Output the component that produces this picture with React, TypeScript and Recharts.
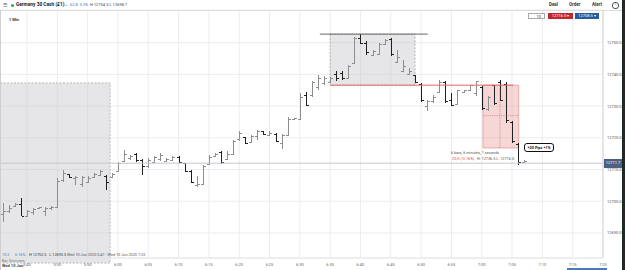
// Germany 30 Cash — 1 minute OHLC bar chart with drawn measurement boxes.
import React from "react";
import {
  ComposedChart,
  Bar,
  XAxis,
  YAxis,
  CartesianGrid,
  ReferenceArea,
  ReferenceLine,
} from "recharts";

// first bar is 5:41, one bar per minute (minutes after midnight)
const FIRST_BAR = 341;

const highs = [
  12699.4, 12698.9, 12699.4, 12701.0, 12697.3, 12697.8, 12698.3, 12698.1, 12698.5, 12707.3,
  12709.9, 12708.6, 12708.0, 12708.0, 12707.8, 12708.8, 12709.9, 12708.3, 12708.8, 12712.5,
  12716.2, 12714.6, 12715.1, 12713.2, 12713.5, 12714.3, 12715.1, 12713.5, 12714.3, 12714.3,
  12712.2, 12709.9, 12707.8, 12711.5, 12714.6, 12715.3, 12715.9, 12715.7, 12719.3, 12722.2,
  12720.4, 12720.9, 12722.5, 12722.3, 12722.0, 12721.4, 12721.2, 12726.7, 12726.4, 12734.1,
  12734.6, 12738.0, 12739.8, 12739.4, 12739.1, 12741.0, 12741.2, 12742.8, 12751.7, 12752.7,
  12750.4, 12747.8, 12749.9, 12751.0, 12751.5, 12747.8, 12744.6, 12742.0, 12739.9, 12737.3,
  12732.0, 12733.6, 12738.3, 12737.8, 12734.1, 12735.2, 12735.2, 12736.8, 12738.0, 12736.2,
  12733.1, 12736.8, 12738.3, 12737.6, 12725.2, 12718.4, 12713.1,
];
const lows = [
  12693.6, 12696.2, 12698.3, 12695.2, 12695.2, 12695.7, 12697.8, 12695.2, 12697.3, 12698.3,
  12706.2, 12707.3, 12705.2, 12704.6, 12705.7, 12707.3, 12707.8, 12703.4, 12707.3, 12709.4,
  12712.5, 12713.0, 12712.5, 12708.3, 12710.4, 12712.0, 12712.8, 12712.5, 12712.8, 12712.0,
  12709.1, 12705.7, 12704.6, 12705.2, 12711.5, 12714.1, 12711.8, 12713.0, 12714.6, 12719.1,
  12718.1, 12718.3, 12719.3, 12720.9, 12720.7, 12718.8, 12716.4, 12720.9, 12725.6, 12725.6,
  12729.9, 12733.0, 12735.1, 12736.8, 12737.3, 12738.0, 12738.3, 12738.9, 12743.6, 12749.6,
  12746.2, 12745.7, 12746.2, 12749.4, 12745.7, 12743.6, 12741.0, 12740.1, 12737.3, 12731.3,
  12728.4, 12731.0, 12734.1, 12731.0, 12729.9, 12730.5, 12734.5, 12734.9, 12733.1, 12728.9,
  12728.4, 12730.5, 12731.5, 12724.7, 12718.4, 12711.5, 12712.1,
];
const opens = [
  12696.0, 12697.0, 12698.5, 12699.0, 12695.5, 12696.5, 12697.8, 12697.0, 12697.8, 12698.3,
  12706.8, 12708.5, 12707.3, 12705.5, 12706.0, 12707.5, 12708.2, 12708.0, 12707.5, 12709.5,
  12712.8, 12713.5, 12715.0, 12713.0, 12711.0, 12712.5, 12713.2, 12712.8, 12713.0, 12714.0,
  12712.0, 12709.5, 12705.0, 12705.5, 12711.8, 12714.3, 12715.5, 12713.2, 12715.0, 12719.5,
  12720.2, 12718.6, 12720.5, 12722.2, 12721.0, 12721.2, 12718.5, 12721.0, 12725.8, 12726.0,
  12733.5, 12733.5, 12736.0, 12737.2, 12737.5, 12740.0, 12740.5, 12739.0, 12743.6, 12751.5,
  12750.0, 12746.0, 12746.5, 12749.6, 12751.0, 12744.0, 12741.2, 12740.2, 12739.8, 12737.0,
  12730.0, 12731.5, 12734.5, 12737.5, 12732.0, 12730.8, 12734.6, 12735.0, 12734.0, 12736.0,
  12729.0, 12736.5, 12737.5, 12737.0, 12725.0, 12718.0, 12712.3,
];
const closes = [
  12697.0, 12698.0, 12699.0, 12695.5, 12697.0, 12697.5, 12698.2, 12697.9, 12698.3, 12706.5,
  12709.0, 12707.5, 12707.6, 12707.5, 12707.4, 12708.5, 12709.5, 12706.0, 12708.5, 12712.0,
  12714.8, 12714.2, 12713.0, 12711.0, 12713.0, 12714.0, 12714.5, 12713.2, 12714.0, 12712.3,
  12709.5, 12706.0, 12705.5, 12711.0, 12714.0, 12715.0, 12712.5, 12715.0, 12719.0, 12721.5,
  12718.5, 12720.5, 12722.0, 12721.2, 12721.6, 12719.0, 12720.8, 12726.0, 12726.2, 12733.0,
  12730.5, 12737.5, 12739.0, 12738.8, 12738.8, 12738.8, 12739.0, 12742.5, 12751.5, 12750.0,
  12747.0, 12747.5, 12749.5, 12750.8, 12746.5, 12745.5, 12742.5, 12741.0, 12737.5, 12732.0,
  12731.5, 12733.0, 12737.5, 12731.5, 12730.5, 12735.0, 12735.0, 12736.5, 12737.8, 12729.5,
  12732.8, 12731.0, 12732.0, 12725.5, 12719.0, 12712.5, 12712.8,
];

const timeTicks = [345, 350, 355, 360, 365, 370, 375, 380, 385, 390, 395, 400, 405, 410, 415, 420, 425, 430, 435, 440];
const priceTicks = [12690, 12700, 12710, 12720, 12730, 12740, 12750];
const lastPrice = 12712.0;

const data = highs.map((h, i) => ({
  t: FIRST_BAR + i,
  range: [lows[i], h],
  high: h,
  low: lows[i],
  open: opens[i],
  close: closes[i],
}));

const fmtTime = (m: number) => `${Math.floor(m / 60)}:${String(m % 60).padStart(2, "0")}`;

// one OHLC bar: vertical high-low line, open tick left, close tick right
const OhlcShape = (props: any) => {
  const { x, y, width, height, payload } = props;
  if (x == null || y == null || !payload) return null;
  const top = Math.min(y, y + height);
  const bottom = Math.max(y, y + height);
  const k = (bottom - top) / (payload.high - payload.low || 1);
  const cx = Math.round(x + width / 2) + 0.5;
  const yo = Math.round(top + (payload.high - payload.open) * k) + 0.5;
  const yc = Math.round(top + (payload.high - payload.close) * k) + 0.5;
  const color = payload.close < payload.open ? "#202020" : "#8e8e8e";
  return (
    <g stroke={color} strokeWidth={1} shapeRendering="crispEdges">
      <line x1={cx} x2={cx} y1={top} y2={bottom} />
      <line x1={cx - 2.5} x2={cx} y1={yo} y2={yo} />
      <line x1={cx} x2={cx + 2.5} y1={yc} y2={yc} />
    </g>
  );
};

const abs = (style: React.CSSProperties): React.CSSProperties => ({
  position: "absolute",
  whiteSpace: "nowrap",
  lineHeight: 1,
  ...style,
});

export default function App() {
  return (
    <div
      style={{
        position: "absolute",
        left: 0,
        top: 0,
        width: 625,
        height: 270,
        background: "#fff",
        fontFamily: "Roboto, 'Noto Sans', sans-serif",
        overflow: "hidden",
      }}
    >
      <ComposedChart
        width={625}
        height={270}
        data={data}
        margin={{ top: 10, right: 0, bottom: 0, left: 0 }}
      >
        <CartesianGrid stroke="#ededed" />
        <XAxis
          type="number"
          dataKey="t"
          domain={[340.55, 440]}
          ticks={timeTicks}
          interval={0}
          allowDataOverflow
          tickFormatter={fmtTime}
          tick={{ fontSize: 4, fill: "#666" }}
          tickLine={false}
          tickSize={3}
          axisLine={{ stroke: "#e6e6e6" }}
          height={12}
        />
        <YAxis
          orientation="right"
          domain={[12682.1, 12760.3]}
          ticks={priceTicks}
          interval={0}
          allowDataOverflow
          tickFormatter={(v: number) => v.toFixed(1)}
          tick={{ fontSize: 4, fill: "#555" }}
          tickLine={false}
          tickSize={2}
          tickMargin={2}
          axisLine={{ stroke: "#d4d4d4" }}
          width={22}
        />

        {/* left measure box */}
        <ReferenceArea
          x1={340.55}
          x2={358.7}
          y1={12680.5}
          y2={12737.3}
          ifOverflow="visible"
          fill="#c4c4ca"
          fillOpacity={0.42}
          stroke="#a8a8a8"
          strokeDasharray="2 1.5"
          strokeWidth={0.8}
        />
        {/* top range box */}
        <ReferenceArea
          x1={395}
          x2={409}
          y1={12736.6}
          y2={12752.7}
          fill="#c4c4ca"
          fillOpacity={0.42}
          stroke="#a8a8a8"
          strokeDasharray="2 1.5"
          strokeWidth={0.8}
        />
        {/* red drop box */}
        <ReferenceArea
          x1={420.2}
          x2={426.1}
          y1={12716.8}
          y2={12736.6}
          fill="#e88a8a"
          fillOpacity={0.35}
          stroke="#e29a9a"
          strokeWidth={0.8}
        />
        <ReferenceLine
          segment={[{ x: 420.2, y: 12727.0 }, { x: 426.1, y: 12727.0 }]}
          stroke="#b07070"
          strokeDasharray="0.8 1"
          strokeWidth={0.7}
        />
        <ReferenceLine
          segment={[{ x: 423.0, y: 12716.8 }, { x: 423.0, y: 12736.6 }]}
          stroke="#b07070"
          strokeDasharray="0.8 1"
          strokeWidth={0.7}
        />
        <ReferenceLine y={lastPrice} stroke="#c3c8d0" strokeWidth={1} />
        <ReferenceLine
          segment={[{ x: 393.3, y: 12752.7 }, { x: 411.1, y: 12752.7 }]}
          stroke="#666"
          strokeWidth={1}
        />
        <ReferenceLine
          segment={[{ x: 395, y: 12736.6 }, { x: 425.2, y: 12736.6 }]}
          stroke="#e06a6a"
          strokeWidth={1}
        />

        <Bar
          dataKey="range"
          barSize={4}
          shape={<OhlcShape />}
          isAnimationActive={false}
        />
      </ComposedChart>

      {/* header row */}
      <div style={abs({ left: 0, top: 10, width: 625, height: 1, background: "#dcdcdc" })} />
      <div style={abs({ left: 0, top: 10, width: 1, height: 260, background: "#cfcfcf" })} />
      <div style={abs({ left: 622, top: 0, width: 3, height: 270, background: "#1f2a22" })} />
      <div style={abs({ left: 3, top: 2.5, fontSize: 5, color: "#555" })}>☰</div>
      <div style={abs({ left: 11, top: 3.5, width: 3, height: 3, borderRadius: 2, background: "#2aa84a" })} />
      <div style={abs({ left: 16, top: 2.5, fontSize: 4.8, fontWeight: 700, color: "#222" })}>
        Germany 30 Cash (£1)
      </div>
      <div style={abs({ left: 64, top: 2.5, fontSize: 4.5, color: "#666" })}>⌄</div>
      <div style={abs({ left: 70, top: 3, fontSize: 4, color: "#3b78c4" })}>62.8&nbsp;&nbsp;0.5%</div>
      <div style={abs({ left: 90, top: 3, fontSize: 4, color: "#444" })}>H 12754.5 L 12698.7</div>
      <div style={abs({ left: 549, top: 3, fontSize: 4.5, fontWeight: 700, color: "#333" })}>Deal</div>
      <div style={abs({ left: 569, top: 3, fontSize: 4.5, fontWeight: 700, color: "#333" })}>Order</div>
      <div style={abs({ left: 592, top: 3, fontSize: 4.5, fontWeight: 700, color: "#333" })}>Alert</div>
      <div
        style={abs({
          left: 612,
          top: 2,
          width: 5,
          height: 5,
          borderRadius: 3,
          border: "0.7px solid #555",
          fontSize: 3.5,
          textAlign: "center",
          color: "#555",
        })}
      >
        i
      </div>

      {/* second row */}
      <div style={abs({ left: 9, top: 18, fontSize: 4, fontWeight: 700, color: "#333" })}>1 Min</div>
      <div
        style={abs({
          left: 528,
          top: 13,
          width: 17,
          height: 6,
          border: "0.7px solid #aaa",
          background: "#fff",
          fontSize: 4,
          textAlign: "right",
          color: "#333",
          boxSizing: "border-box",
          paddingRight: 3,
          paddingTop: 0.5,
        })}
      >
        10
      </div>
      <div
        style={abs({
          left: 548,
          top: 13,
          width: 25,
          height: 6,
          background: "#c4262e",
          color: "#fff",
          fontSize: 4,
          textAlign: "center",
          paddingTop: 1,
          boxSizing: "border-box",
        })}
      >
        12716.5 ▾
      </div>
      <div
        style={abs({
          left: 575,
          top: 13,
          width: 24,
          height: 6,
          background: "#235d9e",
          color: "#fff",
          fontSize: 4,
          textAlign: "center",
          paddingTop: 1,
          boxSizing: "border-box",
        })}
      >
        12708.5 ▾
      </div>

      {/* last price tag */}
      <div
        style={abs({
          left: 604,
          top: 158.5,
          width: 18,
          height: 9,
          background: "#4c6182",
          color: "#fff",
          fontSize: 4,
          textAlign: "center",
          paddingTop: 2.5,
          boxSizing: "border-box",
        })}
      >
        12711.7
      </div>

      {/* measure texts */}
      <div style={abs({ left: 451, top: 151, fontSize: 3.8, color: "#555" })}>6 bars, 6 minutes, 1 seconds</div>
      <div style={abs({ left: 451, top: 157, fontSize: 3.8, color: "#d24a4a" })}>-20.0 (-0.16%)</div>
      <div style={abs({ left: 477, top: 157, fontSize: 3.8, color: "#555" })}>H: 12736.5 L: 12716.5</div>
      <div
        style={abs({
          left: 524,
          top: 143,
          width: 30,
          height: 9,
          border: "1.3px solid #111",
          borderRadius: 3,
          background: "#fff",
          fontSize: 3.8,
          fontWeight: 700,
          color: "#111",
          textAlign: "center",
          paddingTop: 1.7,
          boxSizing: "border-box",
        })}
      >
        +20 Pips +1%
      </div>

      <div style={abs({ left: 2, top: 253, fontSize: 3.8, color: "#3b78c4" })}>10.2</div>
      <div style={abs({ left: 15, top: 253, fontSize: 3.8, color: "#3b78c4" })}>6.16%</div>
      <div style={abs({ left: 29, top: 253, fontSize: 3.8, color: "#333" })}>H 12752.5&nbsp;&nbsp; L 12693.5</div>
      <div style={abs({ left: 67, top: 253, fontSize: 3.8, color: "#555" })}>
        Wed 10 Jun 2020 5:41 - Wed 10 Jun 2020 7:23
      </div>
      <div style={abs({ left: 2, top: 259, fontSize: 3.8, color: "#777" })}>Bar Xminutes</div>

      {/* x axis date */}
      <div style={abs({ left: 2, top: 264, fontSize: 4, fontWeight: 700, color: "#444" })}>Wed 10 Jun</div>
      <div style={abs({ left: 567, top: 268, width: 40, height: 2, background: "#4a7ab8" })} />
    </div>
  );
}
